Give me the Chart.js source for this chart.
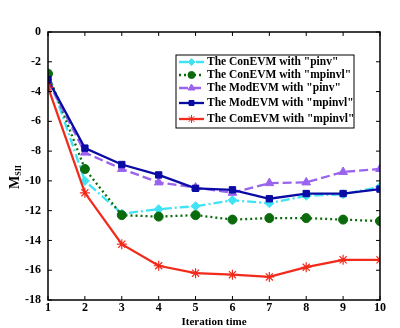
<!DOCTYPE html>
<html>
<head>
<meta charset="utf-8">
<script src="https://cdn.jsdelivr.net/npm/chart.js@4"></script>
<style>
  html, body { margin: 0; padding: 0; background: #fff; }
  #wrap { width: 400px; height: 328px; }
</style>
</head>
<body>
<div id="wrap"><canvas id="chart" width="400" height="328"></canvas></div>
<script>
// данные с картинки
const iterations = [1, 2, 3, 4, 5, 6, 7, 8, 9, 10];
const conPinv = [-2.8, -10.0, -12.2, -11.9, -11.7, -11.3, -11.5, -11.0, -10.9, -10.4];
const conMpinvl = [-2.8, -9.2, -12.3, -12.4, -12.3, -12.6, -12.5, -12.5, -12.6, -12.7];
const modPinv = [-3.3, -8.1, -9.2, -10.1, -10.45, -10.8, -10.15, -10.1, -9.4, -9.2];
const modMpinvl = [-3.2, -7.8, -8.9, -9.6, -10.5, -10.6, -11.2, -10.85, -10.85, -10.55];
const comMpinvl = [-3.7, -10.8, -14.25, -15.7, -16.2, -16.3, -16.45, -15.8, -15.3, -15.3];
const seriesLabels = [
  'The ConEVM with "pinv"',
  'The ConEVM with "mpinvl"',
  'The ModEVM with "pinv"',
  'The ModEVM with "mpinvl"',
  'The ComEVM with "mpinvl"'
];
const yTicks = [0, -2, -4, -6, -8, -10, -12, -14, -16, -18];

const FONT = '"Liberation Serif", "Times New Roman", serif';

function pts(values) {
  return values.map((v, i) => ({ x: iterations[i], y: v }));
}

const styles = [
  { color: '#3fe3f2', dash: [9, 3, 2, 3], point: 'rectRot', r: 4.5 },
  { color: '#0b6a0b', dash: [2, 3], point: 'circle', r: 4.5 },
  { color: '#9a63ee', dash: [9, 4], point: 'triangle', r: 5 },
  { color: '#0a0aa5', dash: [], point: 'rect', r: 4.5 },
  { color: '#f22a1c', dash: [], point: 'star', r: 5 }
];
const allValues = [conPinv, conMpinvl, modPinv, modMpinvl, comMpinvl];

const datasets = allValues.map((vals, i) => ({
  label: seriesLabels[i],
  data: pts(vals),
  borderColor: styles[i].color,
  backgroundColor: styles[i].color,
  borderWidth: 2.3,
  borderDash: styles[i].dash,
  pointStyle: styles[i].point,
  pointRadius: styles[i].r,
  pointBorderWidth: styles[i].point === 'star' ? 1.2 : 1,
  tension: 0,
  order: 5 - i
}));

// рамка, внутренние засечки, легенда и подписи осей
const framePlugin = {
  id: 'frame',
  afterDatasetsDraw(chart) {
    const { ctx, chartArea: a, scales } = chart;
    ctx.save();
    ctx.strokeStyle = '#000';
    ctx.lineWidth = 1.5;
    ctx.setLineDash([]);
    ctx.strokeRect(a.left, a.top, a.right - a.left, a.bottom - a.top);

    ctx.lineWidth = 1;
    const t = 4;
    iterations.forEach(v => {
      const x = scales.x.getPixelForValue(v);
      ctx.beginPath();
      ctx.moveTo(x, a.bottom); ctx.lineTo(x, a.bottom - t);
      ctx.moveTo(x, a.top); ctx.lineTo(x, a.top + t);
      ctx.stroke();
    });
    yTicks.forEach(v => {
      const y = scales.y.getPixelForValue(v);
      ctx.beginPath();
      ctx.moveTo(a.left, y); ctx.lineTo(a.left + t, y);
      ctx.moveTo(a.right, y); ctx.lineTo(a.right - t, y);
      ctx.stroke();
    });

    // легенда
    const lx = 176, ly = 55, lw = 178, lh = 73;
    ctx.fillStyle = '#fff';
    ctx.fillRect(lx, ly, lw, lh);
    ctx.strokeStyle = '#000';
    ctx.lineWidth = 1;
    ctx.strokeRect(lx, ly, lw, lh);
    const rows = [62, 75, 88, 103, 119];
    chart.data.datasets.forEach((ds, i) => {
      const y = rows[i];
      ctx.strokeStyle = ds.borderColor;
      ctx.fillStyle = ds.backgroundColor;
      ctx.lineWidth = 2.3;
      ctx.setLineDash(ds.borderDash);
      ctx.beginPath();
      ctx.moveTo(lx + 3, y); ctx.lineTo(lx + 28, y);
      ctx.stroke();
      ctx.setLineDash([]);
      ctx.lineWidth = 1;
      Chart.helpers.drawPoint(ctx, {
        pointStyle: ds.pointStyle, radius: ds.pointRadius - 1, borderWidth: 1, rotation: 0
      }, lx + 15.5, y);
      ctx.fillStyle = '#000';
      ctx.font = 'bold 11.5px ' + FONT;
      ctx.textBaseline = 'middle';
      ctx.textAlign = 'left';
      ctx.fillText(ds.label, lx + 31, y);
    });

    // подписи осей
    ctx.fillStyle = '#000';
    ctx.textAlign = 'center';
    ctx.textBaseline = 'middle';
    ctx.font = 'bold 11px ' + FONT;
    ctx.fillText('Iteration time', (a.left + a.right) / 2, 322);

    ctx.translate(15, 178);
    ctx.rotate(-Math.PI / 2);
    ctx.textAlign = 'left';
    ctx.font = 'bold 14px ' + FONT;
    ctx.fillText('M', -11, 0);
    const mw = ctx.measureText('M').width;
    ctx.font = 'bold 8px ' + FONT;
    ctx.fillText('SII', -11 + mw, 4);
    ctx.restore();
  }
};

new Chart(document.getElementById('chart'), {
  type: 'line',
  data: { datasets },
  options: {
    responsive: false,
    animation: false,
    devicePixelRatio: 1,
    layout: { padding: { top: 32, right: 20, left: 0, bottom: 0 } },
    plugins: { legend: { display: false }, tooltip: { enabled: false } },
    scales: {
      x: {
        type: 'linear',
        min: 1, max: 10,
        grid: { display: false, tickLength: 0 },
        border: { display: false },
        ticks: {
          stepSize: 1, color: '#000', padding: 1,
          font: { family: FONT, size: 12, weight: 'bold' }
        },
        afterFit(scale) { scale.height = 28; }
      },
      y: {
        min: -18, max: 0,
        grid: { display: false, tickLength: 0 },
        border: { display: false },
        ticks: {
          stepSize: 2, color: '#000', padding: 7,
          font: { family: FONT, size: 12, weight: 'bold' }
        },
        afterFit(scale) { scale.width = 48; }
      }
    }
  },
  plugins: [framePlugin]
});
</script>
</body>
</html>
